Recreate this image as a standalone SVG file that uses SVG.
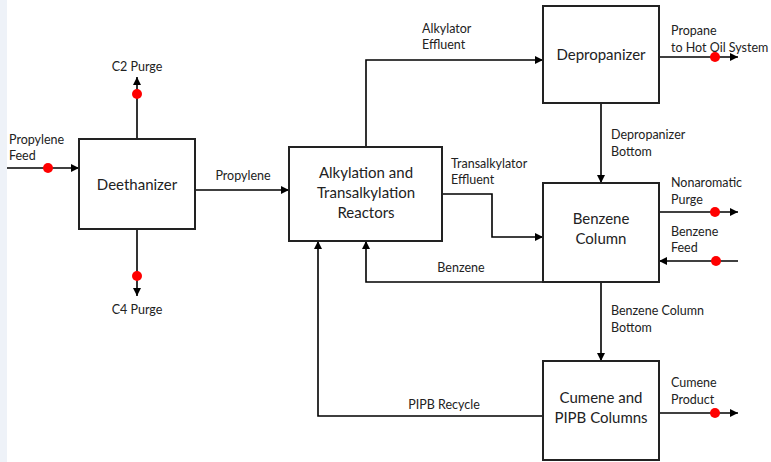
<svg xmlns="http://www.w3.org/2000/svg" width="771" height="462" viewBox="0 0 771 462">
<defs>
<marker id="arr" viewBox="0 0 10 10" refX="10" refY="5" markerWidth="8" markerHeight="8" markerUnits="userSpaceOnUse" orient="auto">
<path d="M0,0 L10,5 L0,10 z" fill="#000"/>
</marker>
<style>
.box{fill:#fff;stroke:#222;stroke-width:2}
.ln{fill:none;stroke:#000;stroke-width:1.6;marker-end:url(#arr)}
.ln2{fill:none;stroke:#000;stroke-width:1.6}
.dot{fill:#ff0000}
.t{font-family:Lato,"Open Sans",sans-serif;font-size:12.5px;fill:#222}
.bt{font-family:Lato,"Open Sans",sans-serif;font-size:15px;fill:#222;text-anchor:middle;dominant-baseline:central}
</style>
</defs>
<rect x="0" y="0" width="771" height="462" fill="#fff"/>
<rect x="0" y="0" width="7" height="462" fill="#eef2f8"/>
<g id="connectors">
<path class="ln" d="M7,168 H79"/>
<path class="ln" d="M137,139 V77"/>
<path class="ln" d="M137,229 V296"/>
<path class="ln" d="M195,190 H289"/>
<path class="ln" d="M366,147 V60 H543"/>
<path class="ln" d="M442,194 H492 V237 H543"/>
<path class="ln" d="M543,282 H366 V241"/>
<path class="ln" d="M543,416 H318 V241"/>
<path class="ln" d="M659,57 H738"/>
<path class="ln" d="M601,103 V183"/>
<path class="ln" d="M659,212 H738"/>
<path class="ln" d="M738,261 H659"/>
<path class="ln" d="M601,282 V361"/>
<path class="ln" d="M659,413 H738"/>
<circle class="dot" cx="48" cy="168" r="5"/>
<circle class="dot" cx="137" cy="94" r="5"/>
<circle class="dot" cx="137" cy="276" r="5"/>
<circle class="dot" cx="715" cy="57" r="5"/>
<circle class="dot" cx="715" cy="212" r="5"/>
<circle class="dot" cx="716" cy="261" r="5"/>
<circle class="dot" cx="715" cy="413" r="5"/>
</g>
<g id="labels">
<text class="t" x="9" y="144">Propylene</text>
<text class="t" x="9" y="160">Feed</text>
<text class="t" x="137" y="71" text-anchor="middle">C2 Purge</text>
<text class="t" x="137" y="314" text-anchor="middle">C4 Purge</text>
<text class="t" x="243" y="180" text-anchor="middle">Propylene</text>
<text class="t" x="422" y="33">Alkylator</text>
<text class="t" x="422" y="49">Effluent</text>
<text class="t" x="451" y="168">Transalkylator</text>
<text class="t" x="451" y="184">Effluent</text>
<text class="t" x="461" y="272" text-anchor="middle">Benzene</text>
<text class="t" x="444" y="409" text-anchor="middle">PIPB Recycle</text>
<text class="t" x="671" y="35">Propane</text>
<text class="t" x="671" y="52">to Hot  Oil System</text>
<text class="t" x="611" y="139">Depropanizer</text>
<text class="t" x="611" y="156">Bottom</text>
<text class="t" x="671" y="187">Nonaromatic</text>
<text class="t" x="671" y="204">Purge</text>
<text class="t" x="671" y="236">Benzene</text>
<text class="t" x="671" y="252">Feed</text>
<text class="t" x="611" y="315">Benzene Column</text>
<text class="t" x="611" y="332">Bottom</text>
<text class="t" x="671" y="387">Cumene</text>
<text class="t" x="671" y="404">Product</text>
</g>
<g id="deethanizer">
<rect class="box" x="79" y="139" width="116" height="90"/>
<text class="bt" x="137" y="184">Deethanizer</text>
</g>
<g id="reactors">
<rect class="box" x="289" y="147" width="153" height="94"/>
<text class="bt" x="366" y="172">Alkylation and</text>
<text class="bt" x="366" y="192">Transalkylation</text>
<text class="bt" x="366" y="212">Reactors</text>
</g>
<g id="depropanizer">
<rect class="box" x="543" y="6" width="116" height="97"/>
<text class="bt" x="601" y="54">Depropanizer</text>
</g>
<g id="benzene-column">
<rect class="box" x="543" y="183" width="116" height="99"/>
<text class="bt" x="601" y="218">Benzene</text>
<text class="bt" x="601" y="238">Column</text>
</g>
<g id="cumene-columns">
<rect class="box" x="543" y="361" width="116" height="99"/>
<text class="bt" x="601" y="397">Cumene and</text>
<text class="bt" x="601" y="417">PIPB Columns</text>
</g>
</svg>
